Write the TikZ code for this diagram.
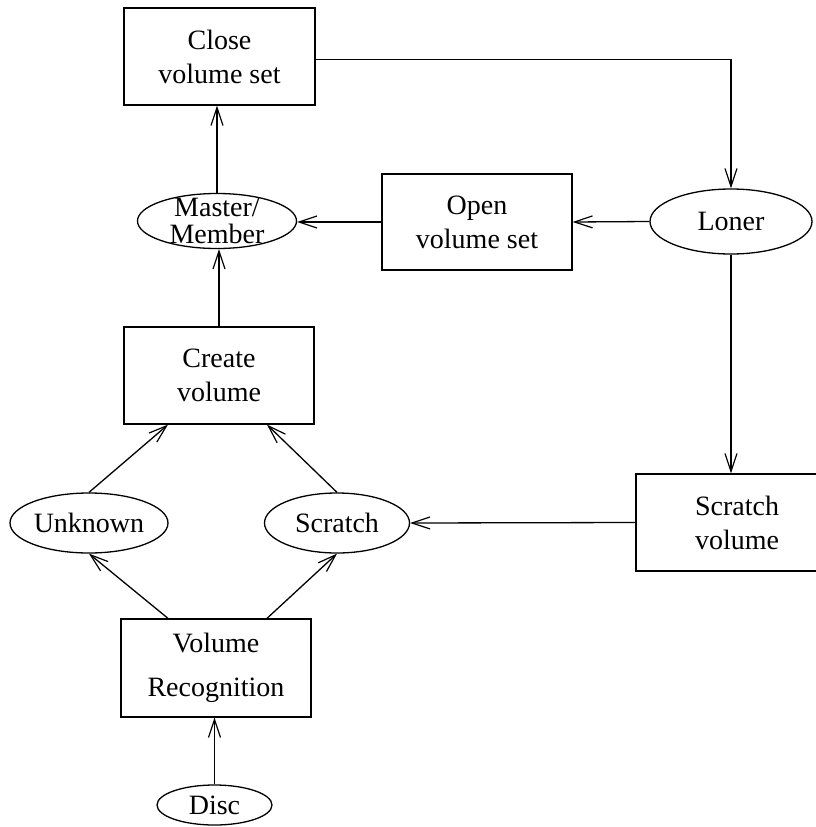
\documentclass[tikz,border=0pt]{standalone}
\usepackage{fontspec}
\setmainfont{Liberation Serif}
\usetikzlibrary{arrows.meta,shapes.geometric,calc}
\begin{document}
\begin{tikzpicture}[x=1pt,y=1pt,
  line width=1.3pt,
  >={Straight Barb[length=18pt,width=12pt,line width=1.2pt]},
  stepbox/.style={draw,rectangle,inner sep=0pt,font=\fontsize{28}{34}\selectfont,align=center},
  oval/.style={draw,ellipse,inner sep=0pt},
  ovaltext/.style={inner sep=0pt,font=\fontsize{28}{27}\selectfont,align=center},
]
\useasboundingbox (0,0) rectangle (816,-827);

% process boxes
\node[stepbox,minimum width=191pt,minimum height=97pt] (close) at (219.5,-56.5) {Close\\volume set};
\node[stepbox,minimum width=190pt,minimum height=96pt] (open) at (477,-222) {Open\\volume set};
\node[stepbox,minimum width=190pt,minimum height=97pt] (create) at (219,-375.5) {Create\\volume};
\node[stepbox,minimum width=190pt,minimum height=98pt,font=\fontsize{28}{44}\selectfont] (recog) at (216,-668) {Volume\\Recognition};
\node[stepbox,minimum width=202pt,minimum height=97pt] (scrvol) at (737,-522.5) {Scratch\\volume};

% volume states
\node[oval,minimum width=159pt,minimum height=55pt] (master) at (217,-221) {};
\node[ovaltext] (mastertxt) at (217,-221) {Master/\\Member};
\node[oval,minimum width=162pt,minimum height=65pt] (loner) at (731,-221.5) {};
\node[ovaltext] (lonertxt) at (loner) {Loner};
\node[oval,minimum width=158pt,minimum height=60pt] (unknown) at (89,-523) {};
\node[ovaltext] (unknowntxt) at (unknown) {Unknown};
\node[oval,minimum width=145pt,minimum height=60pt] (scratch) at (337,-523) {};
\node[ovaltext] (scratchtxt) at (scratch) {Scratch};
\node[oval,minimum width=115pt,minimum height=40pt] (disc) at (214.5,-805) {};
\node[ovaltext] (disctxt) at (disc) {Disc};

% transitions
\draw[->] (disc.north) -- (disc.north |- recog.south);
\draw[->] ($(recog.north)+(-48,0)$) -- (unknown.south);
\draw[->] ($(recog.north)+(51,0)$) -- (scratch.south);
\draw[->] (unknown.north) -- ($(create.south)+(-51,0)$);
\draw[->] (scratch.north) -- ($(create.south)+(48,0)$);
\draw[->] (create.north) -- (create.north |- master.south);
\draw[->] (master.north) -- (master.north |- close.south);
\draw[->] (open.west) -- (open.west -| master.east);
\draw[->] (loner.west) -- (open.east);
\draw[->] ($(close.east)+(0,-3)$) -| (loner.north);
\draw[->] (loner.south) -- (loner.south |- scrvol.north);
\draw[->] (scrvol.west) -- (scratch.east);
\end{tikzpicture}
\end{document}
